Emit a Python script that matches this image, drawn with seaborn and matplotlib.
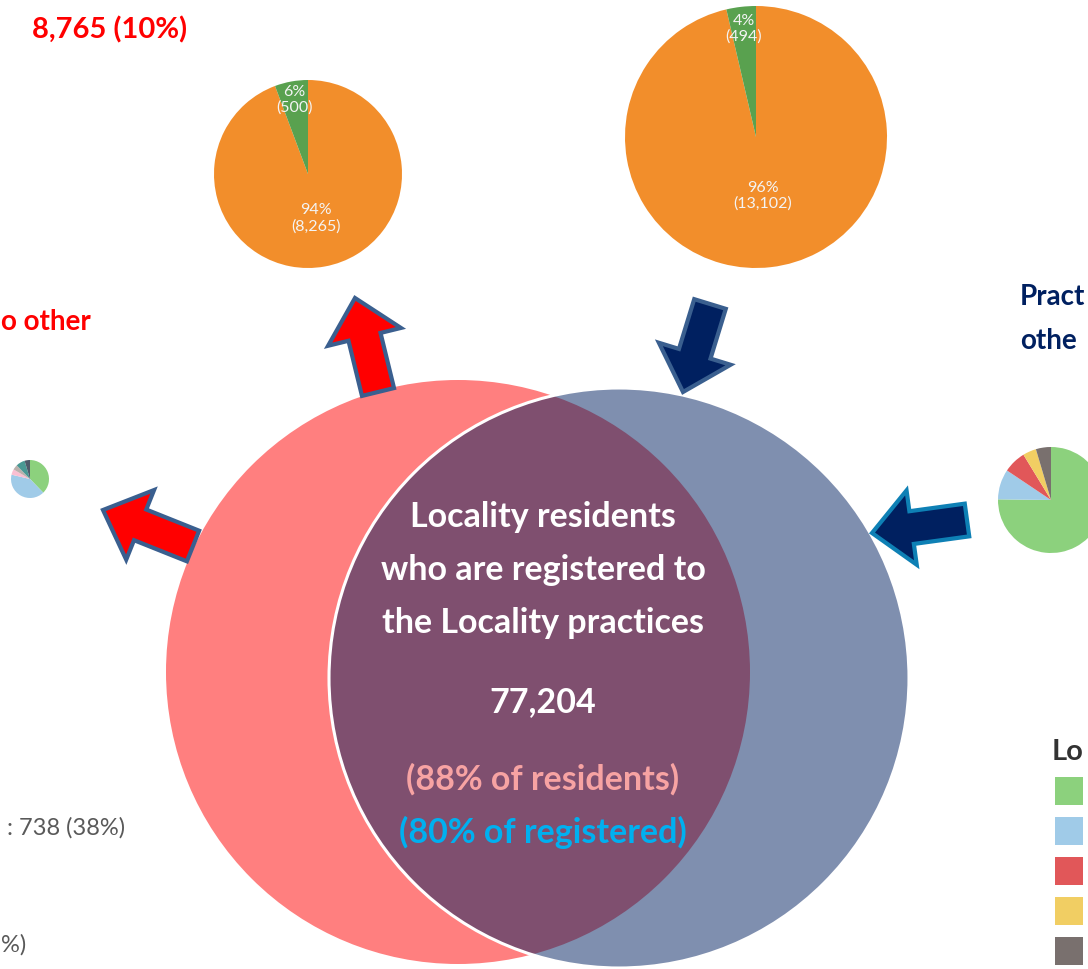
import numpy as np
import matplotlib
matplotlib.use("Agg")
import matplotlib.pyplot as plt
from matplotlib.patches import Circle, FancyArrow, Rectangle
import seaborn as sns

sns.set_theme(style="white")
plt.rcParams['font.family'] = ['Lato', 'DejaVu Sans']

W, H = 1088, 969

# 数据 -------------------------------------------------------------
# 上左饼图: 流出居民 (8,765)
out_values = [8265, 500]
out_labels = ["94%\n(8,265)", "6%\n(500)"]
# 上右饼图: 流入注册人数
in_values = [13102, 494]
in_labels = ["96%\n(13,102)", "4%\n(494)"]
top_colors = ["#f28e2b", "#59a14f"]

# 左侧小饼图 (738 = 38%)
left_small_values = [738, 800, 92, 85, 150, 90]
left_small_colors = ["#8cd17d", "#a0cbe8", "#fabfd2", "#bab0ac", "#499894", "#4e5a6a"]

# 右侧饼图 (百分比)
right_values = [75.2, 9.2, 6.9, 4.1, 4.6]
right_colors = ["#8cd17d", "#a0cbe8", "#e15759", "#f1ce63", "#79706e"]

venn_lines = ["Locality residents", "who are registered to", "the Locality practices",
              "77,204", "(88% of residents)", "(80% of registered)"]
venn_line_y = [517, 570, 623, 702, 779, 832]
venn_line_colors = ["white", "white", "white", "white", "#f7a3a3", "#00b0f0"]

fig = plt.figure(figsize=(W / 100, H / 100), dpi=100)
ax = fig.add_axes([0, 0, 1, 1])
ax.set_xlim(0, W)
ax.set_ylim(H, 0)
ax.set_axis_off()

# 维恩图圆
ax.add_patch(Circle((458, 672), 292, facecolor="#ff7f7f", edgecolor="none", zorder=1))
ax.add_patch(Circle((619, 678), 290, facecolor=(0, 0.125, 0.376, 0.5),
                    edgecolor="white", linewidth=2.2, zorder=2))

for txt, yy, col in zip(venn_lines, venn_line_y, venn_line_colors):
    ax.text(543, yy, txt, ha="center", va="center", color=col,
            fontsize=24.5, fontweight="bold", zorder=5)


# 箭头
def arrow(x0, y0, x1, y1, face, edge):
    ax.add_patch(FancyArrow(x0, y0, x1 - x0, y1 - y0, width=33, head_width=75,
                            head_length=40, length_includes_head=True,
                            facecolor=face, edgecolor=edge, linewidth=3, zorder=4))


arrow(378, 392, 355, 298, "#ff0000", "#3a5f8f")
arrow(710, 304, 683, 392, "#002060", "#3a5f8f")
arrow(193, 546, 103, 510, "#ff0000", "#3a5f8f")
arrow(967, 520, 872, 533, "#002060", "#0e80b5")


# 饼图
def pie_axes(cx, cy, r):
    pax = fig.add_axes([(cx - r) / W, 1 - (cy + r) / H, 2 * r / W, 2 * r / H])
    return pax


def draw_pie(cx, cy, r, values, colors, labels=None, label_r=None):
    pax = pie_axes(cx, cy, r)
    wedges, _ = pax.pie(values, colors=colors, startangle=90, counterclock=False,
                        radius=1, wedgeprops=dict(linewidth=0))
    pax.set_xlim(-1, 1)
    pax.set_ylim(-1, 1)
    pax.set_axis_off()
    if labels:
        for w, lab, lr in zip(wedges, labels, label_r):
            ang = np.deg2rad((w.theta1 + w.theta2) / 2)
            pax.text(lr * np.cos(ang), lr * np.sin(ang), lab, ha="center", va="center",
                     color="#f4f4f4", fontsize=11.5, linespacing=1.15)
    return pax


draw_pie(308, 174, 94, out_values, top_colors, out_labels, [0.48, 0.8])
draw_pie(756, 137, 131, in_values, top_colors, in_labels, [0.45, 0.83])
draw_pie(30, 479, 19, left_small_values, left_small_colors)
draw_pie(1051, 500, 53, right_values, right_colors)

# 文字 (画面边缘处只保留可见部分)
ax.text(32, 30, "8,765 (10%)", ha="left", va="center", color="#ff0000",
        fontsize=21, fontweight="bold")
ax.text(1, 322, "o other", ha="left", va="center", color="#ff0000",
        fontsize=20, fontweight="bold")
ax.text(1020, 297, "Pract", ha="left", va="center", color="#002060",
        fontsize=20, fontweight="bold")
ax.text(1020, 341, "othe", ha="left", va="center", color="#002060",
        fontsize=20, fontweight="bold")
ax.text(125, 828, ": 738 (38%)", ha="right", va="center", color="#595959", fontsize=17)
ax.text(1, 945, "%)", ha="left", va="center", color="#595959", fontsize=17)

# 图例
ax.text(1052, 752, "Lo", ha="left", va="center", color="#333333",
        fontsize=21, fontweight="bold")
for i, c in enumerate(right_colors):
    ax.add_patch(Rectangle((1055, 777 + 40 * i), 28, 28, facecolor=c, edgecolor="none"))

fig.savefig("out.png", dpi=100)
